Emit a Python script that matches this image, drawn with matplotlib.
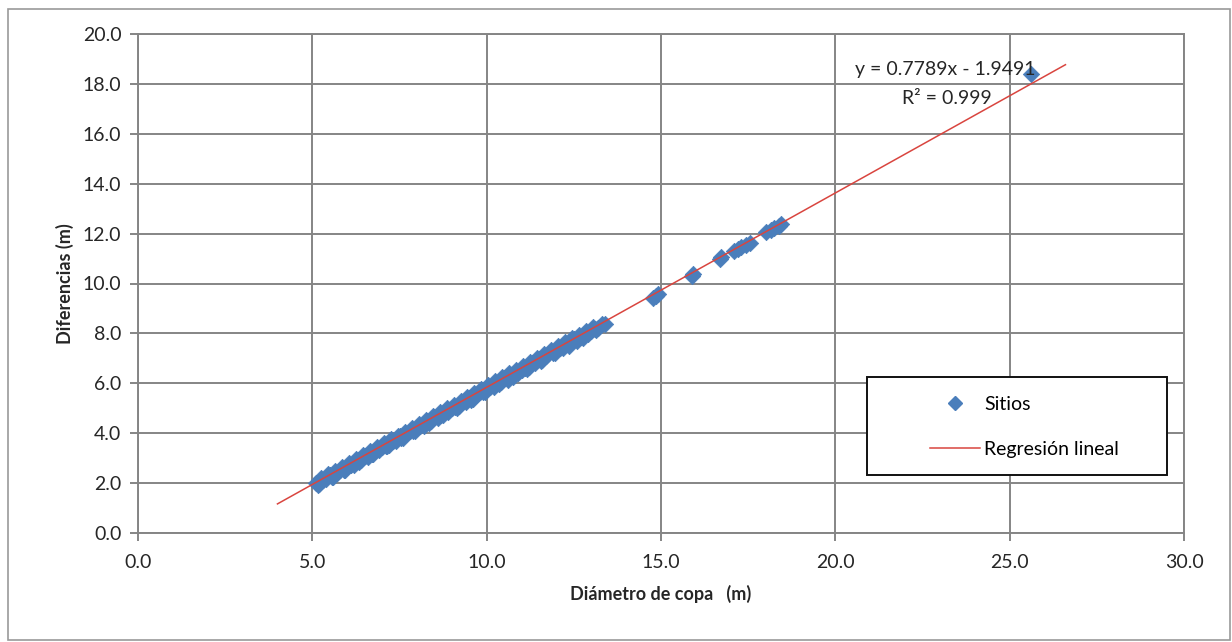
import matplotlib.pyplot as plt
from matplotlib.patches import Rectangle
from matplotlib.lines import Line2D
import numpy as np

plt.rcParams['font.family'] = ['Lato', 'DejaVu Sans']

# Sitios: diametro de copa (x) vs diferencias (y)
sitios_x = [5.1, 5.2, 5.3, 5.4, 5.5, 5.6, 5.7, 5.8, 5.9, 6.0,
            6.1, 6.2, 6.3, 6.4, 6.5, 6.6, 6.7, 6.8, 6.9, 7.0,
            7.1, 7.2, 7.3, 7.4, 7.5, 7.6, 7.7, 7.8, 7.9, 8.0,
            8.1, 8.2, 8.3, 8.4, 8.5, 8.6, 8.7, 8.8, 8.9, 9.0,
            9.1, 9.2, 9.3, 9.4, 9.5, 9.6, 9.7, 9.8, 9.9, 10.0,
            10.1, 10.2, 10.3, 10.4, 10.5, 10.6, 10.7, 10.8, 10.9, 11.0,
            11.1, 11.2, 11.3, 11.4, 11.5, 11.6, 11.7, 11.8, 11.9, 12.0,
            12.1, 12.2, 12.3, 12.4, 12.5, 12.6, 12.7, 12.8, 12.9, 13.0,
            13.1, 13.2, 13.3, 13.4,
            5.25, 5.45, 5.65, 5.85, 6.05, 6.25, 6.45, 6.65, 6.85, 7.05,
            7.25, 7.45, 7.65, 7.85, 8.05, 8.25, 8.45, 8.65, 8.85, 9.05,
            9.25, 9.45, 9.65, 9.85, 10.05, 10.25, 10.45, 10.65, 10.85, 11.05,
            11.25, 11.45, 11.65, 11.85, 12.05, 12.25, 12.45, 12.65, 12.85, 13.05,
            5.15, 5.55, 5.95, 6.35, 6.75, 7.15, 7.55, 7.95, 8.35, 8.75,
            9.15, 9.55, 9.95, 10.35, 10.75, 11.15, 11.55, 11.95, 12.35, 12.75,
            13.15,
            14.78, 14.85, 14.92, 15.88, 15.92, 16.68, 16.72,
            17.08, 17.2, 17.3, 17.45, 17.55,
            18.02, 18.15, 18.25, 18.38, 18.45, 25.6]
sitios_y = [2.02, 1.96, 2.13, 2.15, 2.31, 2.25, 2.40, 2.53, 2.53, 2.65,
            2.72, 2.74, 2.91, 2.92, 3.09, 3.03, 3.18, 3.31, 3.31, 3.43,
            3.50, 3.52, 3.69, 3.70, 3.87, 3.81, 3.96, 4.09, 4.08, 4.21,
            4.28, 4.30, 4.47, 4.48, 4.65, 4.59, 4.74, 4.87, 4.86, 4.99,
            5.06, 5.08, 5.25, 5.26, 5.43, 5.37, 5.52, 5.64, 5.64, 5.77,
            5.84, 5.86, 6.02, 6.04, 6.21, 6.15, 6.30, 6.42, 6.42, 6.55,
            6.62, 6.64, 6.80, 6.82, 6.99, 6.93, 7.08, 7.20, 7.20, 7.33,
            7.40, 7.42, 7.58, 7.60, 7.77, 7.71, 7.85, 7.98, 7.98, 8.11,
            8.18, 8.20, 8.36, 8.38,
            2.20, 2.35, 2.50, 2.66, 2.81, 2.97, 3.13, 3.28, 3.44, 3.59,
            3.75, 3.90, 4.06, 4.21, 4.37, 4.53, 4.68, 4.84, 4.99, 5.15,
            5.31, 5.46, 5.62, 5.77, 5.93, 6.09, 6.24, 6.40, 6.55, 6.71,
            6.87, 7.02, 7.18, 7.33, 7.49, 7.64, 7.80, 7.95, 8.11, 8.26,
            1.92, 2.24, 2.54, 2.86, 3.17, 3.48, 3.79, 4.10, 4.40, 4.72,
            5.03, 5.34, 5.65, 5.96, 6.27, 6.58, 6.89, 7.20, 7.51, 7.82,
            8.12,
            9.42, 9.50, 9.56, 10.32, 10.38, 10.98, 11.05,
            11.30, 11.38, 11.45, 11.55, 11.62,
            12.05, 12.15, 12.22, 12.32, 12.40, 18.4]

# Regresion lineal
slope = 0.7789
intercept = -1.9491
r2 = 0.999
trend_x = np.array([4.0, 26.6])

x_ticks = [0, 5, 10, 15, 20, 25, 30]
y_ticks = [0, 2, 4, 6, 8, 10, 12, 14, 16, 18, 20]

grid_col = '#858585'
blue = '#4A7EBB'
red = '#D9453F'
txt = '#262626'

fig = plt.figure(figsize=(12.32, 6.42), dpi=100)
fig.patches.append(Rectangle((8 / 1232, 1 - 640 / 642), 1222 / 1232, 631 / 642,
                             transform=fig.transFigure, fill=False,
                             edgecolor='#9a9a9a', linewidth=1.2))

ax = fig.add_axes([138 / 1232, 1 - 533 / 642, 1046 / 1232, 499 / 642])
ax.scatter(sitios_x, sitios_y, marker='D', s=70, color=blue, edgecolors=blue,
           linewidths=0.5, zorder=3)
ax.plot(trend_x, slope * trend_x + intercept, color=red, linewidth=1.1, zorder=4)

ax.set_xlim(0, 30)
ax.set_ylim(0, 20)
ax.set_xticks(x_ticks)
ax.set_yticks(y_ticks)
ax.set_xticklabels([f'{v:.1f}' for v in x_ticks])
ax.set_yticklabels([f'{v:.1f}' for v in y_ticks])
ax.grid(True, color=grid_col, linewidth=1.4)
ax.set_axisbelow(True)
for sp in ax.spines.values():
    sp.set_color(grid_col)
    sp.set_linewidth(1.4)
ax.tick_params(axis='both', colors=grid_col, length=6, width=1.4,
               labelsize=14, labelcolor=txt)
ax.tick_params(axis='x', pad=9)
ax.tick_params(axis='y', pad=6)

ax.set_xlabel('Diámetro de copa   (m)', fontsize=13, fontweight='bold',
              color=txt, labelpad=10)
ax.set_ylabel('Diferencias (m)', fontsize=13, fontweight='bold',
              color=txt, labelpad=6)

fig.text(945 / 1232, 1 - 70 / 642, f'y = {slope}x - {abs(intercept)}',
         ha='center', va='center', fontsize=14, color=txt, zorder=6)
fig.text(947 / 1232, 1 - 98 / 642, f'R² = {r2}',
         ha='center', va='center', fontsize=14, color=txt, zorder=6)

# legend frame and entries
fig.patches.append(Rectangle((867 / 1232, 1 - 475 / 642), 300 / 1232, 98 / 642,
                             transform=fig.transFigure, facecolor='white',
                             edgecolor='#111111', linewidth=1.4, zorder=5))
handles = [Line2D([], [], linestyle='none', marker='D', markersize=7.5, color=blue),
           Line2D([], [], color=red, linewidth=1.1)]
fig.legend(handles, ['Sitios', 'Regresión lineal'], loc='center left',
           bbox_to_anchor=(912 / 1232, 1 - 427 / 642), frameon=False,
           fontsize=14, handlelength=2.6, labelspacing=1.45, handletextpad=0.2)

fig.savefig('out.png', dpi=100)
